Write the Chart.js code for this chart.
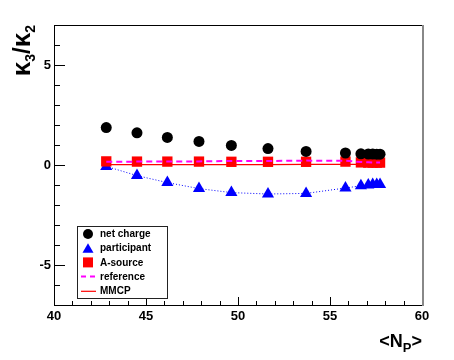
<!DOCTYPE html>
<html>
<head>
<meta charset="utf-8">
<script src="https://cdn.jsdelivr.net/npm/chart.js@4/dist/chart.umd.min.js"></script>
<style>
  html, body { margin: 0; padding: 0; background: #fff; }
  #wrap { width: 454px; height: 360px; }
</style>
</head>
<body>
<div id="wrap"><canvas id="chart" width="454" height="360"></canvas></div>
<script>
var npart       = [42.84, 44.51, 46.16, 47.88, 49.64, 51.63, 53.70, 55.84, 56.68, 57.08, 57.32, 57.54, 57.72];
var netCharge   = [1.87, 1.61, 1.38, 1.18, 0.98, 0.82, 0.68, 0.60, 0.56, 0.55, 0.55, 0.54, 0.54];
var participant = [-0.07, -0.53, -0.88, -1.18, -1.38, -1.45, -1.42, -1.15, -1.04, -1.0, -0.98, -0.97, -0.97];
var aSource     = [0.18, 0.17, 0.17, 0.17, 0.16, 0.16, 0.16, 0.17, 0.13, 0.12, 0.12, 0.12, 0.12];
var reference   = [0.16, 0.17, 0.17, 0.18, 0.20, 0.20, 0.22, 0.21, 0.15, 0.14, 0.13, 0.13, 0.13];
var mmcp        = [0.02, 0.02, 0.02, 0.02, 0.02, 0.02, 0.03, 0.03, 0.03, 0.03, 0.03, 0.03, 0.03];
var seriesNames = ['net charge', 'participant', 'A-source', 'reference', 'MMCP'];

var FONT = '"Liberation Sans", Arial, Helvetica, sans-serif';

function pts(ys) {
    return npart.map(function(x, i) { return { x: x, y: ys[i] }; });
}

function majorOnly(v) {
    return v % 5 === 0 ? String(v) : '';
}

// ROOT-like frame, inward ticks, titles and legend
var decorPlugin = {
    id: 'decor',
    beforeDatasetsDraw: function(chart) {
        var ctx = chart.ctx, a = chart.chartArea;
        var xs = chart.scales.x, ys = chart.scales.y;
        ctx.save();
        ctx.strokeStyle = '#000';
        ctx.lineWidth = 1;
        ctx.beginPath();
        xs.ticks.forEach(function(t) {
            var px = Math.round(xs.getPixelForValue(t.value)) + 0.5;
            var len = t.value % 5 === 0 ? 8 : 4;
            ctx.moveTo(px, a.bottom);
            ctx.lineTo(px, a.bottom - len);
        });
        ys.ticks.forEach(function(t) {
            var py = Math.round(ys.getPixelForValue(t.value)) + 0.5;
            var len = t.value % 5 === 0 ? 11 : 6;
            ctx.moveTo(a.left, py);
            ctx.lineTo(a.left + len, py);
        });
        ctx.stroke();
        ctx.restore();
    },
    afterDraw: function(chart) {
        var ctx = chart.ctx, a = chart.chartArea;
        ctx.save();
        // frame
        ctx.strokeStyle = '#000';
        ctx.lineWidth = 1;
        ctx.beginPath();
        ctx.moveTo(a.right, a.top + 0.5);
        ctx.lineTo(a.left + 0.5, a.top + 0.5);
        ctx.lineTo(a.left + 0.5, a.bottom + 0.5);
        ctx.lineTo(a.right, a.bottom + 0.5);
        ctx.stroke();
        ctx.strokeStyle = '#888';
        ctx.lineWidth = 2;
        ctx.beginPath();
        ctx.moveTo(a.right + 1, a.top);
        ctx.lineTo(a.right + 1, a.bottom + 1);
        ctx.stroke();

        // y title: kappa3 / kappa2, rotated
        var parts = [
            { t: '\u03BA', f: 26, dy: 0 },
            { t: '3', f: 14, dy: 5 },
            { t: '/', f: 24, dy: 0 },
            { t: '\u03BA', f: 26, dy: 0 },
            { t: '2', f: 14, dy: 5 }
        ];
        var total = 0;
        parts.forEach(function(p) {
            ctx.font = 'bold ' + p.f + 'px ' + FONT;
            p.w = ctx.measureText(p.t).width;
            total += p.w;
        });
        ctx.translate(30, a.top + total);
        ctx.rotate(-Math.PI / 2);
        ctx.fillStyle = '#000';
        ctx.textBaseline = 'alphabetic';
        ctx.textAlign = 'left';
        var cx = 0;
        parts.forEach(function(p) {
            ctx.font = 'bold ' + p.f + 'px ' + FONT;
            ctx.fillText(p.t, cx, p.dy);
            cx += p.w;
        });
        ctx.setTransform(1, 0, 0, 1, 0, 0);

        // x title: <N_P>
        var xparts = [
            { t: '<N', f: 18, dy: 0 },
            { t: 'P', f: 13, dy: 5 },
            { t: '>', f: 18, dy: 0 }
        ];
        total = 0;
        xparts.forEach(function(p) {
            ctx.font = 'bold ' + p.f + 'px ' + FONT;
            p.w = ctx.measureText(p.t).width;
            total += p.w;
        });
        cx = a.right - total;
        xparts.forEach(function(p) {
            ctx.font = 'bold ' + p.f + 'px ' + FONT;
            ctx.fillText(p.t, cx, 347 + p.dy);
            cx += p.w;
        });

        // legend box
        var lx = 77, ly = 226, lw = 90, lh = 72;
        ctx.fillStyle = '#fff';
        ctx.fillRect(lx, ly, lw, lh);
        ctx.strokeStyle = '#222';
        ctx.lineWidth = 1;
        ctx.strokeRect(lx + 0.5, ly + 0.5, lw, lh);
        ctx.font = 'bold 10px ' + FONT;
        ctx.textBaseline = 'middle';
        seriesNames.forEach(function(name, i) {
            var my = 234 + i * 14.2, mx = 88;
            ctx.save();
            if (i === 0) {
                ctx.fillStyle = '#000';
                ctx.beginPath();
                ctx.arc(mx, my, 5, 0, Math.PI * 2);
                ctx.fill();
            } else if (i === 1) {
                ctx.fillStyle = '#0000ff';
                ctx.beginPath();
                ctx.moveTo(mx, my - 5);
                ctx.lineTo(mx + 5.5, my + 4.5);
                ctx.lineTo(mx - 5.5, my + 4.5);
                ctx.closePath();
                ctx.fill();
            } else if (i === 2) {
                ctx.fillStyle = '#ff0000';
                ctx.fillRect(mx - 5, my - 5, 10, 10);
            } else if (i === 3) {
                ctx.strokeStyle = '#ff00ff';
                ctx.lineWidth = 2;
                ctx.setLineDash([5, 4]);
                ctx.beginPath();
                ctx.moveTo(81, my);
                ctx.lineTo(96, my);
                ctx.stroke();
            } else {
                ctx.strokeStyle = '#ff0000';
                ctx.lineWidth = 1.2;
                ctx.beginPath();
                ctx.moveTo(81, my + 0.5);
                ctx.lineTo(96, my + 0.5);
                ctx.stroke();
            }
            ctx.restore();
            ctx.fillStyle = '#000';
            ctx.fillText(name, 100, my + 0.5);
        });
        ctx.restore();
    }
};

document.addEventListener('DOMContentLoaded', function() {
    var el = document.getElementById('chart');
    new Chart(el.getContext('2d'), {
        type: 'scatter',
        data: {
            datasets: [
                {
                    label: seriesNames[0], data: pts(netCharge), order: 0,
                    pointStyle: 'circle', pointRadius: 5.5, borderWidth: 0,
                    backgroundColor: '#000', borderColor: '#000', showLine: false
                },
                {
                    label: seriesNames[3], data: pts(reference), order: 1,
                    showLine: true, pointRadius: 0, borderColor: '#ff00ff',
                    borderWidth: 2, borderDash: [6, 4], backgroundColor: '#ff00ff'
                },
                {
                    label: seriesNames[2], data: pts(aSource), order: 2,
                    pointStyle: 'rect', pointRadius: 7.3, borderWidth: 0,
                    backgroundColor: '#ff0000', borderColor: '#ff0000', showLine: false
                },
                {
                    label: seriesNames[1], data: pts(participant), order: 3,
                    pointStyle: 'triangle', pointRadius: 7, pointBorderWidth: 0,
                    pointBackgroundColor: '#0000ff', backgroundColor: '#0000ff',
                    showLine: true, borderColor: '#0000ff', borderWidth: 1,
                    borderDash: [1, 2]
                },
                {
                    label: seriesNames[4], data: pts(mmcp), order: 4,
                    showLine: true, pointRadius: 0, borderColor: '#ff0000',
                    borderWidth: 1.2, backgroundColor: '#ff0000'
                }
            ]
        },
        options: {
            responsive: false,
            animation: false,
            layout: { padding: { top: 25, right: 32, left: 0, bottom: 0 } },
            plugins: { legend: { display: false }, tooltip: { enabled: false } },
            scales: {
                x: {
                    type: 'linear', min: 40, max: 60,
                    grid: { display: false, drawTicks: false },
                    border: { display: false },
                    ticks: {
                        stepSize: 1, autoSkip: false, maxRotation: 0, padding: 4,
                        color: '#000', font: { family: FONT, size: 13, weight: 'bold' },
                        callback: majorOnly
                    },
                    afterFit: function(s) { s.height = 55; }
                },
                y: {
                    type: 'linear', min: -7, max: 7,
                    grid: { display: false, drawTicks: false },
                    border: { display: false },
                    ticks: {
                        stepSize: 1, autoSkip: false, padding: 3,
                        color: '#000', font: { family: FONT, size: 13, weight: 'bold' },
                        callback: majorOnly
                    },
                    afterFit: function(s) { s.width = 54; }
                }
            }
        },
        plugins: [decorPlugin]
    });
});
</script>
</body>
</html>
